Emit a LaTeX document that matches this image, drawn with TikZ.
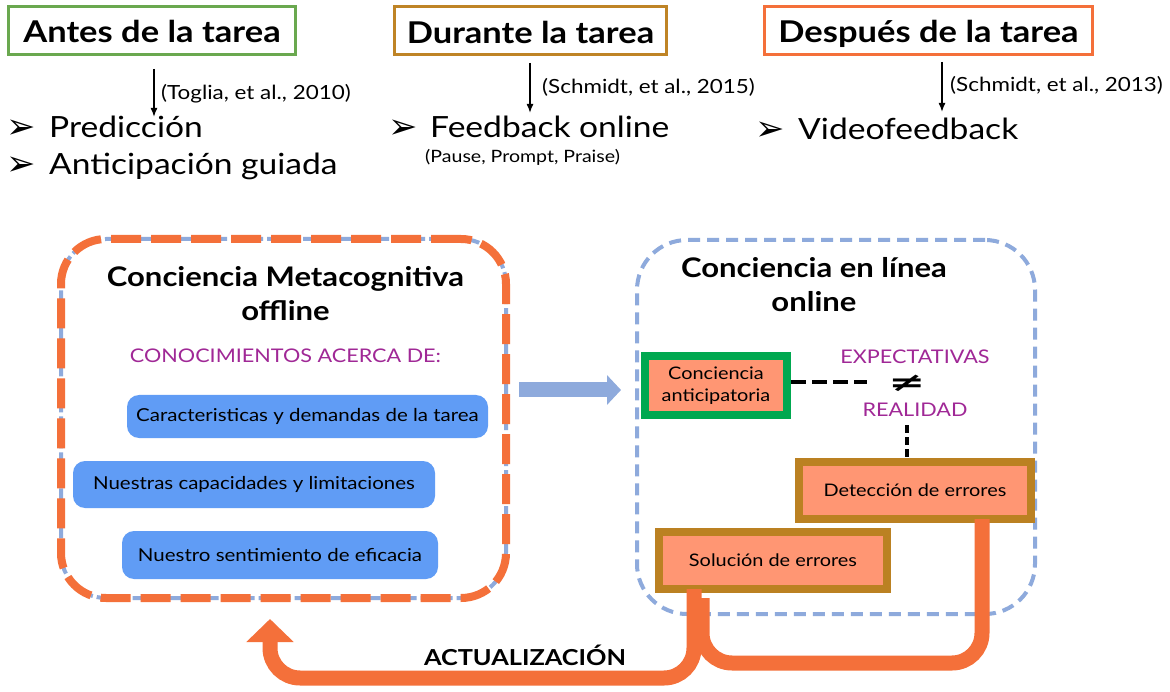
\documentclass[tikz,border=0pt]{standalone}
\usepackage{fontspec}
\setmainfont{Lato}[FakeStretch=1.15]
\newfontfamily\symbfont{DejaVu Sans}
\usetikzlibrary{arrows.meta}

\definecolor{hdgreen}{RGB}{106,168,79}
\definecolor{hdbrown}{RGB}{191,132,38}
\definecolor{hdorange}{RGB}{244,112,58}
\definecolor{boxgreen}{RGB}{0,168,80}
\definecolor{boxbrown}{RGB}{187,129,34}
\definecolor{salmon}{RGB}{255,150,115}
\definecolor{itemblue}{RGB}{96,156,245}
\definecolor{paleblue}{RGB}{142,170,220}
\definecolor{knowpurple}{RGB}{160,40,150}

\newcommand{\bul}{\raisebox{-1pt}{\scalebox{1.2}{\symbfont ➢}}}

\begin{document}
\begin{tikzpicture}[x=1pt, y=-1pt,
    headbox/.style={draw, line width=3pt, fill=white, minimum height=48pt, inner sep=0pt, text height=32pt, text depth=7pt, font=\fontsize{30}{36}\selectfont\bfseries},
    citetext/.style={anchor=base west, inner sep=0pt, font=\fontsize{19.5}{22}\selectfont},
    itemtext/.style={anchor=base west, inner sep=0pt, font=\fontsize{29.2}{36}\selectfont},
    citearrow/.style={-{Latex[length=9pt,width=7pt]}, line width=1.5pt},
    titletext/.style={align=center, font=\fontsize{27}{34}\selectfont\bfseries},
    purpletext/.style={text=knowpurple, inner sep=0pt, font=\fontsize{18.8}{22}\selectfont},
    knowbox/.style={fill=itemblue, rounded corners=12pt, inner sep=0pt, font=\fontsize{17.8}{20}\selectfont},
    stagebox/.style={draw, line width=8pt, fill=salmon, inner sep=0pt, align=center, font=\fontsize{17.3}{22}\selectfont},
    updateline/.style={draw=hdorange, line width=15pt, rounded corners=30pt}]

\useasboundingbox (0,0) rectangle (1170,692);
\fill[white] (0,0) rectangle (1170,692);

% headers
\node[headbox, draw=hdgreen, minimum width=287pt] (antes) at (152,30.5) {Antes de la tarea};
\node[headbox, draw=hdbrown, minimum width=272pt] (durante) at (530.5,31) {Durante la tarea};
\node[headbox, draw=hdorange, minimum width=328pt] (despues) at (928.5,30.5) {Después de la tarea};

\node[citetext] (toglia) at (161,100) {(Toglia, et al., 2010)};
\node[citetext] (schmidta) at (542,94) {(Schmidt, et al., 2015)};
\node[citetext] (schmidtb) at (950,92) {(Schmidt, et al., 2013)};

\node[itemtext] (pred) at (6,138) {\makebox[43pt][l]{\bul}Predicción};
\node[itemtext] (antic) at (6,175) {\makebox[43pt][l]{\bul}Anticipación guiada};
\node[itemtext] (feed) at (388,138) {\makebox[42pt][l]{\bul}Feedback online};
\node[citetext, font=\fontsize{17}{19}\selectfont] (ppp) at (425,163) {(Pause, Prompt, Praise)};
\node[itemtext] (video) at (755,140) {\makebox[43pt][l]{\bul}Videofeedback};

\coordinate (antesa) at (154,69);   \coordinate (antesb) at (154,117);
\coordinate (duranta) at (530,63);  \coordinate (durantb) at (530,113);
\coordinate (despua) at (942,62);   \coordinate (despub) at (942,112);
\draw[citearrow] (antesa) -- (antesb);
\draw[citearrow] (duranta) -- (durantb);
\draw[citearrow] (despua) -- (despub);

% offline awareness
\node[minimum width=445pt, minimum height=359pt, rounded corners=45pt,
      draw=hdorange, line width=8pt, dash pattern=on 30pt off 10pt,
      preaction={draw=paleblue, line width=4pt, dash pattern=on 14pt off 4pt}] (offline) at (283.5,418.5) {};
\node[titletext] (offtitle) at (285.5,294) {Conciencia Metacognitiva\\offline};
\node[purpletext] (conoc) at (285.5,356) {CONOCIMIENTOS ACERCA DE:};
\node[knowbox, minimum width=361pt, minimum height=43pt] (tarea) at (307.5,416.5) {Caracteristicas y demandas de la tarea};
\node[knowbox, minimum width=362pt, minimum height=47pt] (capac) at (254,484.5) {Nuestras capacidades y limitaciones};
\node[knowbox, minimum width=316pt, minimum height=48pt] (efic) at (280,555) {Nuestro sentimiento de eficacia};

% online awareness
\node[minimum width=398pt, minimum height=374pt, rounded corners=50pt,
      draw=paleblue, line width=4pt, dash pattern=on 12pt off 7pt] (online) at (836,427) {};
\node[titletext] (ontitle) at (814,285) {Conciencia en línea\\online};
\node[stagebox, draw=boxgreen, minimum width=142pt, minimum height=59pt] (anticip) at (716,385.5) {Conciencia\\anticipatoria};
\node[purpletext] (expect) at (915,357) {EXPECTATIVAS};
\node[inner sep=0pt, font=\symbfont\bfseries\fontsize{26}{26}\selectfont] (neq) at (907,383) {\scalebox{1.7}[1]{≠}};
\node[purpletext] (real) at (915,410) {REALIDAD};
\node[stagebox, draw=boxbrown, minimum width=232pt, minimum height=57pt] (detect) at (915,490.5) {Detección de errores};
\node[stagebox, draw=boxbrown, minimum width=228pt, minimum height=57pt] (solucion) at (773,560.5) {Solución de errores};

\coordinate (dashend) at (867,382);
\coordinate (realdash) at (907,425);
\draw[line width=4.5pt, dash pattern=on 15pt off 6pt] ([yshift=3.5pt]anticip.east) -- (dashend);
\draw[line width=4.5pt, dash pattern=on 8pt off 4pt] (realdash) -- (realdash |- detect.north);

% transfer arrow
\coordinate (flowa) at (519,390);
\coordinate (flowb) at (621,390);
\draw[draw=paleblue, line width=15pt, -{Triangle[length=14pt,width=29pt]}] (flowa) -- (flowb);

% update loop
\coordinate (detout) at (982,519);
\coordinate (solout) at (694,589);
\coordinate (offin) at (270,619);
\draw[updateline] (detout) -- (982,663) -- (702,663) -- (702,598);
\draw[updateline, -{Triangle[length=23pt,width=46pt]}] (solout) -- (694,678) -- (270,678) -- (offin);
\node[inner sep=0pt, font=\fontsize{22}{24}\selectfont\bfseries] (actual) at (525,655) {ACTUALIZACIÓN};

\end{tikzpicture}
\end{document}
